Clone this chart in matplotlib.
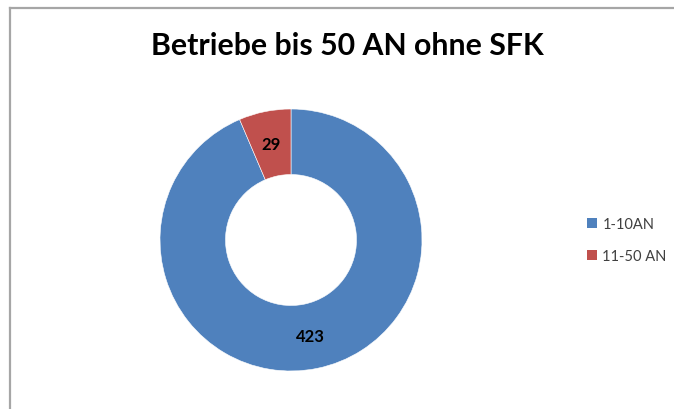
import matplotlib
matplotlib.use("Agg")
import matplotlib.pyplot as plt
from matplotlib.lines import Line2D
from matplotlib.patches import Patch

# data
categories = ["1-10AN", "11-50 AN"]
counts = [423, 29]
colors = ["#4F81BD", "#C0504D"]
title = "Betriebe bis 50 AN ohne SFK"

W, H = 674, 410
fig = plt.figure(figsize=(W / 100, H / 100), dpi=100, facecolor="white")

# chart frame (only top and left edge visible in the crop)
fig.add_artist(Line2D([10 / W, 1], [1 - 9 / H, 1 - 9 / H], color="#a6a6a6", lw=1.6))
fig.add_artist(Line2D([10 / W, 10 / W], [0, 1 - 9 / H], color="#a6a6a6", lw=1.6))

# donut
ax = fig.add_axes([160 / W, 38 / H, 262 / W, 262 / H])
total = sum(counts)
wedges, _, autotexts = ax.pie(
    counts, colors=colors, startangle=90, counterclock=False,
    radius=1.0, pctdistance=0.75,
    autopct=lambda p: "%d" % round(p * total / 100.0),
    wedgeprops=dict(width=0.5, edgecolor="white", linewidth=0.4),
    textprops=dict(fontsize=12, fontweight="bold", color="black", family="Lato"))
ax.set_xlim(-1, 1)
ax.set_ylim(-1, 1)
ax.axis("off")

fig.text(347 / W, 1 - 46 / H, title, ha="center", va="center",
         fontsize=21.8, fontweight="bold", family="Lato")

handles = [Patch(facecolor=c, edgecolor="none") for c in colors]
leg = fig.legend(handles, categories, loc="center left",
                 bbox_to_anchor=(574 / W, 1 - 241 / H), frameon=False,
                 handlelength=0.7, handleheight=0.7, handletextpad=0.35,
                 labelspacing=1.25, prop=dict(family="Lato", size=10.5))
for t in leg.get_texts():
    t.set_color("#404040")

fig.savefig("out.png", dpi=100)
